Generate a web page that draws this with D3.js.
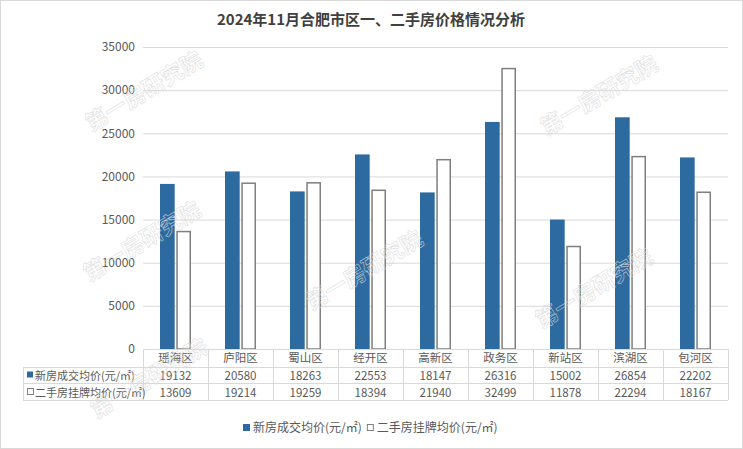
<!DOCTYPE html>
<html><head><meta charset="utf-8">
<script src="https://cdn.jsdelivr.net/npm/d3@7"></script>
<style>
html,body{margin:0;padding:0;background:#fff;}
svg{display:block;font-family:"Noto Sans CJK SC","Microsoft YaHei",sans-serif;}
</style></head>
<body><svg id="c" width="743" height="449"></svg>
<script>
const title = "2024年11月合肥市区一、二手房价格情况分析";
const categories = ["瑶海区","庐阳区","蜀山区","经开区","高新区","政务区","新站区","滨湖区","包河区"];
const seriesNames = ["新房成交均价(元/㎡)","二手房挂牌均价(元/㎡)"];
const newHouse = [19132,20580,18263,22553,18147,26316,15002,26854,22202];
const secondHand = [13609,19214,19259,18394,21940,32499,11878,22294,18167];
const yTicks = [0,5000,10000,15000,20000,25000,30000,35000];
const watermark = "第一房研究院";

(function(){
const svg = d3.select("#c");
const W = 743, H = 449;
const pl = 143, pr = 728, pt = 47, pb = 349;
const txt = "#595959", grid = "#d9d9d9";
const blue = "#2d6a9f";

svg.append("rect").attr("x",0.5).attr("y",0.5).attr("width",W-1).attr("height",H-1)
  .attr("fill","#fff").attr("stroke","#d9d9d9");

svg.append("text").attr("x",371).attr("y",25).attr("text-anchor","middle")
  .attr("font-size",15).attr("font-weight","bold").attr("fill","#404040").text(title);

const y = d3.scaleLinear().domain([0,35000]).range([pb,pt]);
const x = d3.scaleBand().domain(categories).range([pl,pr]);
const x1 = d3.scaleBand().domain([0,1]).range([0,31]).paddingInner(0.1);
const off = (x.bandwidth()-31)/2;

const yAxis = d3.axisLeft(y).tickValues(yTicks).tickSize(-(pr-pl)).tickPadding(8).tickFormat(d3.format("d"));
const ga = svg.append("g").attr("transform",`translate(${pl},0)`).call(yAxis);
ga.select(".domain").remove();
ga.selectAll(".tick line").attr("stroke",grid);
ga.selectAll(".tick text").attr("fill",txt).attr("font-size",12).attr("font-family",'"Noto Sans CJK SC",sans-serif');

const g = svg.append("g");
categories.forEach((c,i)=>{
  g.append("rect").attr("x",x(c)+off+x1(0)).attr("y",y(newHouse[i]))
    .attr("width",x1.bandwidth()).attr("height",y(0)-y(newHouse[i])).attr("fill",blue);
  g.append("rect").attr("x",x(c)+off+x1(1)+0.75).attr("y",y(secondHand[i]))
    .attr("width",x1.bandwidth()-1.5).attr("height",y(0)-y(secondHand[i]))
    .attr("fill","#fff").attr("stroke","#7f7f7f").attr("stroke-width",1.5);
});

const rowY = [349,367,383,400];
const tl = svg.append("g").attr("stroke",grid).attr("stroke-width",1).attr("shape-rendering","crispEdges");
tl.append("line").attr("x1",pl).attr("x2",pr).attr("y1",rowY[0]).attr("y2",rowY[0]);
for (let k=1;k<4;k++) tl.append("line").attr("x1",23).attr("x2",pr).attr("y1",rowY[k]).attr("y2",rowY[k]);
tl.append("line").attr("x1",23).attr("x2",23).attr("y1",rowY[1]).attr("y2",rowY[3]);
categories.concat([null]).forEach(c=>{
  const xx = c===null ? pr : x(c);
  tl.append("line").attr("x1",xx).attr("x2",xx).attr("y1",rowY[0]).attr("y2",rowY[3]);
});
const tt = svg.append("g").attr("font-size",11.5).attr("fill",txt).attr("text-anchor","middle");
categories.forEach((c,i)=>{
  const cx = x(c)+x.bandwidth()/2;
  tt.append("text").attr("x",cx).attr("y",362).text(c);
  tt.append("text").attr("x",cx).attr("y",380).text(newHouse[i]);
  tt.append("text").attr("x",cx).attr("y",397).text(secondHand[i]);
});
svg.append("rect").attr("x",27).attr("y",371.5).attr("width",6).attr("height",6).attr("fill",blue);
svg.append("rect").attr("x",27.5).attr("y",388.5).attr("width",6).attr("height",6).attr("fill","#fff").attr("stroke","#7f7f7f");
svg.append("text").attr("x",35).attr("y",380).attr("font-size",11).attr("fill",txt).text(seriesNames[0]);
svg.append("text").attr("x",35).attr("y",397).attr("font-size",11).attr("fill",txt).text(seriesNames[1]);

const lg = svg.append("g");
const t1 = lg.append("text").attr("x",253).attr("y",432).attr("font-size",12).attr("fill",txt).text(seriesNames[0]);
lg.append("rect").attr("x",243).attr("y",424).attr("width",7).attr("height",7).attr("fill",blue);
const w1 = t1.node().getComputedTextLength();
const lx2 = 253 + w1 + 5;
lg.append("rect").attr("x",lx2+0.5).attr("y",424.5).attr("width",6).attr("height",6).attr("fill","#fff").attr("stroke","#7f7f7f");
lg.append("text").attr("x",lx2+10).attr("y",432).attr("font-size",12).attr("fill",txt).text(seriesNames[1]);

const wm = [[145,93],[600,97],[143,243],[365,272],[595,290],[150,380]];
wm.forEach(([cx,cy])=>{
  svg.append("text").attr("transform",`translate(${cx},${cy}) rotate(-31)`)
    .attr("text-anchor","middle").attr("dominant-baseline","middle")
    .attr("font-size",22).attr("font-weight","bold")
    .attr("fill","none").attr("stroke","#d9d9d9").attr("stroke-width",0.6)
    .attr("opacity",0.85).text(watermark);
});
})();
</script></body></html>
